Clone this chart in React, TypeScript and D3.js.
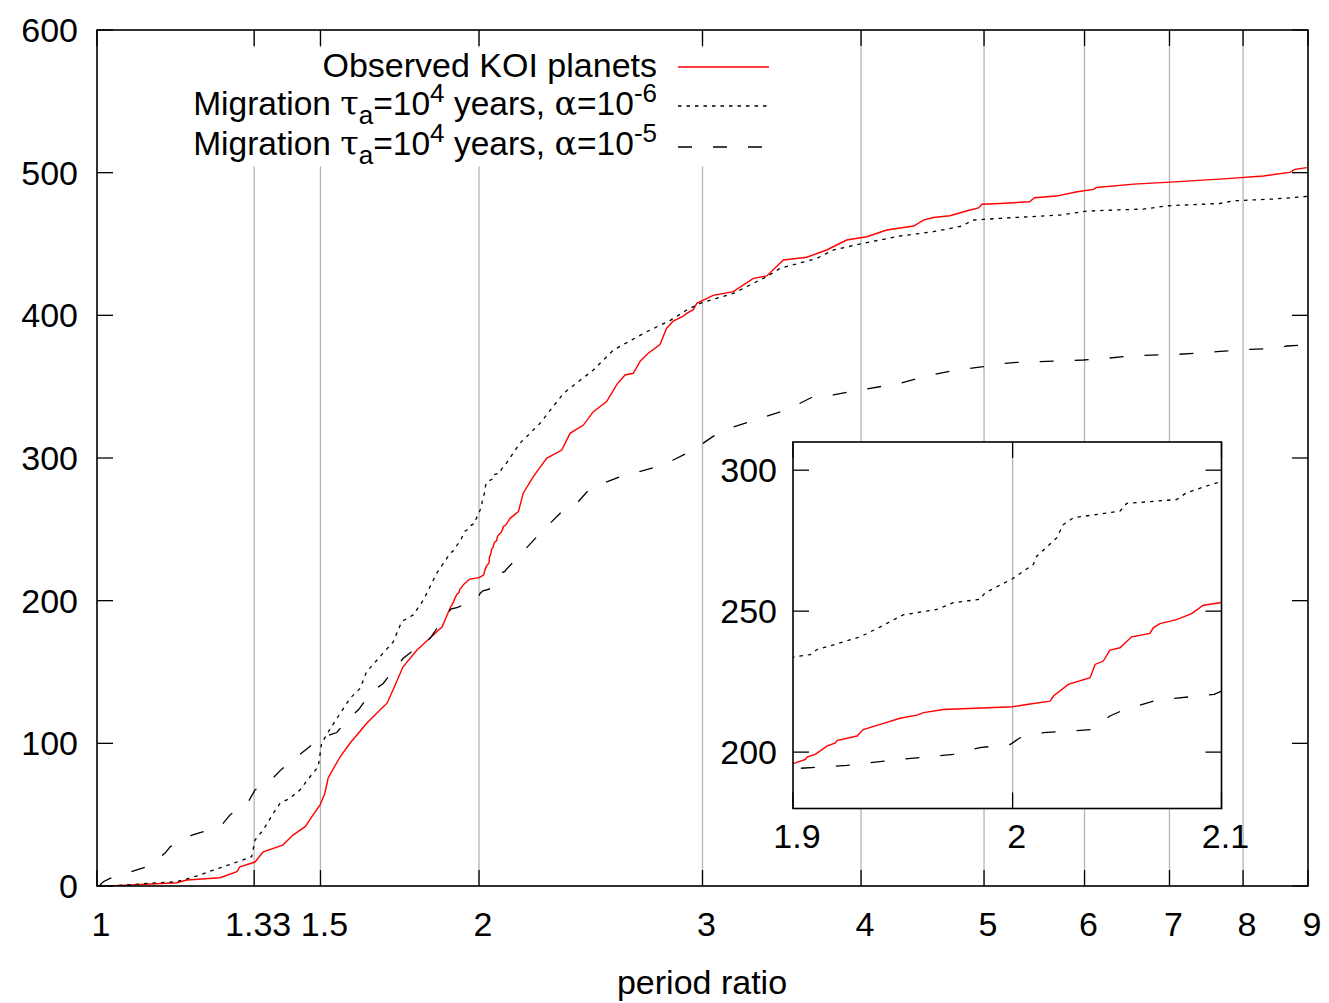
import React from "react";
import * as d3 from "d3";

// ---------- data ----------
const observedX = [1.005, 1.024, 1.156, 1.177, 1.25, 1.289, 1.296, 1.332, 1.352, 1.401, 1.427, 1.459, 1.48, 1.499, 1.512, 1.521, 1.554, 1.583, 1.632, 1.662, 1.693, 1.711, 1.742, 1.787, 1.83, 1.87,
  1.9, 1.9055, 1.9062, 1.9099, 1.9151, 1.9189, 1.9196, 1.9286, 1.9314, 1.9406, 1.9481, 1.9558, 1.9588, 1.968, 2.0, 2.0066, 2.0176, 2.0192, 2.0262, 2.0365, 2.0389, 2.0428, 2.046, 2.0508, 2.0564, 2.0652, 2.0668, 2.07, 2.0781, 2.0854, 2.0911, 2.0993,
  2.116, 2.148, 2.167, 2.207, 2.261, 2.324, 2.359, 2.417, 2.461, 2.521, 2.57, 2.607, 2.646, 2.68, 2.719, 2.777, 2.811, 2.845, 2.897, 2.915, 2.95, 2.969, 3.059, 3.172, 3.29, 3.371, 3.474, 3.624, 3.758, 3.897, 4.041, 4.191, 4.4, 4.48, 4.56, 4.7, 4.85, 4.95, 4.98, 5.15, 5.43, 5.48, 5.7, 5.92, 6.1, 6.13, 6.56, 7.01, 7.77, 8.3, 8.71, 8.79, 8.98];
const observedY = [0, 0, 2.3, 4.2, 5.8, 10, 13.5, 16.8, 24, 28.7, 35.7, 41.6, 49.8, 56.8, 65, 75.7, 90.4, 100.2, 114.3, 121.3, 128.3, 137.4, 153.5, 165.4, 173.8, 181.5,
  195.9, 197.4, 198.2, 199.2, 202.1, 203.3, 204.1, 205.7, 208, 210.2, 212, 213.1, 214, 215.1, 216.1, 216.9, 218.1, 219.9, 224, 226.4, 231.1, 232.3, 236.2, 237, 240.9, 242.1, 244.1, 245.6, 247, 249.1, 252.1, 253,
  257.7, 262.4, 275.3, 286.9, 299.8, 305.6, 317.3, 323.1, 332.5, 339.5, 352, 358.2, 359.4, 368, 373.4, 379.6, 391, 396, 399.5, 401.4, 404, 408.4, 414, 416.6, 425.9, 427.6, 438.8, 440.7, 445.8, 452.8, 455.1, 459.8, 462.6, 466.8, 468.6, 469.8, 473.3, 475.3, 477.9, 478.4, 479.6, 482.4, 483.6, 486.6, 488.3, 489.6, 492, 493.4, 495.8, 497.7, 500.2, 502.3, 503.5];

const alpha6X = [1.024, 1.101, 1.156, 1.206, 1.235, 1.281, 1.324, 1.332, 1.352, 1.377, 1.394, 1.419, 1.445, 1.472, 1.494, 1.503, 1.526, 1.583, 1.612, 1.631, 1.712, 1.738, 1.775, 1.808, 1.852,
  1.9, 1.9077, 1.9107, 1.9196, 1.9301, 1.9376, 1.9495, 1.9649, 1.9725, 1.9848, 1.9872, 2.0, 2.0097, 2.0113, 2.0207, 2.0238, 2.0285, 2.0508, 2.054, 2.0781, 2.0829, 2.0948, 2.1,
  2.154, 2.234, 2.331, 2.461, 2.552, 2.711, 2.83, 2.915, 2.987, 3.172, 3.371, 3.453, 3.691, 3.804, 4.017, 4.293, 4.56, 4.8, 4.9, 4.99, 5.15, 5.74, 6.02, 6.68, 6.97, 7.67, 7.86, 8.45, 8.92, 9.0];
const alpha6Y = [0, 1.9, 3, 7.7, 11.2, 15.9, 20.6, 32.2, 39.3, 51, 58, 61.5, 67.3, 76.6, 83.6, 100, 110, 131.6, 138.6, 150.2, 171.2, 185.3, 190, 200.5, 219.2,
  233.7, 234.6, 236.4, 238.4, 240.9, 243.8, 248.7, 250.6, 253, 254.2, 256.5, 261.5, 266.6, 269.5, 276, 280.7, 283.1, 285.5, 288.2, 289.6, 292, 294.9, 295.9,
  310.3, 324.3, 345.3, 361.7, 375.7, 388.5, 396.5, 403.7, 408.4, 415.4, 427.1, 432.9, 439.9, 445.8, 450.5, 455.6, 458.6, 462.5, 466.8, 467.2, 468, 470.3, 473.1, 474.5, 476.8, 478.4, 480.3, 481.5, 483.1, 483.5];

const alpha5X = [1.005, 1.0115, 1.024, 1.094, 1.131, 1.142, 1.188, 1.213, 1.254, 1.273, 1.316, 1.332, 1.373, 1.398, 1.437, 1.463, 1.499, 1.545, 1.578, 1.607, 1.646, 1.681, 1.717, 1.743, 1.791, 1.83, 1.869,
  1.9, 1.9241, 1.9481, 1.9725, 1.9848, 1.9988, 2.0035, 2.0144, 2.0373, 2.046, 2.0529, 2.0684, 2.0964, 2.1,
  2.142, 2.234, 2.331, 2.388, 2.446, 2.583, 2.646, 2.761, 2.845, 2.95, 3.06, 3.135, 3.27, 3.495, 3.668, 3.804, 3.993, 4.293, 4.478, 4.729, 4.993, 5.147, 5.305, 5.987, 6.247, 6.555, 7.093, 7.626, 8.101, 8.504, 8.659, 8.978];
const alpha5Y = [0.5, 3, 5.4, 13.5, 22.9, 27.5, 35.7, 38.1, 42.8, 49.8, 59.1, 67.3, 74.8, 81.9, 90.6, 96, 103.5, 107.6, 117.5, 123.5, 136.2, 142, 152.6, 159.6, 167.8, 173.6, 185.3,
  194.1, 195.3, 197.4, 199.2, 201.6, 202.7, 205.1, 206.9, 208, 212.8, 215.1, 218.4, 220.5, 221.6,
  229.7, 247.2, 263.5, 268.2, 278.7, 286.9, 289.2, 293.9, 298.6, 305.6, 315.3, 320.2, 325.5, 333.7, 343, 344.2, 347.7, 352.3, 357, 361.2, 364, 366, 367, 368.7, 369.9, 371.7, 372.6, 374.5, 376.2, 376.9, 378.5, 379.2];

const xTickValues = [1, 1.33, 1.5, 2, 3, 4, 5, 6, 7, 8, 9];
const xTickLabels = ["1", "1.33", "1.5", "2", "3", "4", "5", "6", "7", "8", "9"];
const yTickValues = [0, 100, 200, 300, 400, 500, 600];
const insetXTicks = [1.9, 2, 2.1];
const insetXLabels = ["1.9", "2", "2.1"];
const insetYTicks = [200, 250, 300];
const xTitle = "period ratio";
const legendExponents = ["-6", "-5"];

const FONT = "'Liberation Sans', Arial, Helvetica, sans-serif";
const GREEK = "'DejaVu Serif', 'Liberation Serif', serif";

export default function App() {
  // main frame
  const L = 97, R = 1308, T = 30, B = 886;
  const x = d3.scaleLog().domain([1, 9]).range([L, R]);
  const y = d3.scaleLinear().domain([0, 600]).range([B, T]);
  // inset frame
  const iL = 793, iR = 1221.5, iT = 442, iB = 808.5;
  const ix = d3.scaleLog().domain([1.9, 2.1]).range([iL, iR]);
  const iy = d3.scaleLinear().domain([180, 310]).range([iB, iT]);

  const series = [
    { xs: observedX, ys: observedY, color: "#ff0000", width: 1.4, dash: undefined as string | undefined },
    { xs: alpha6X, ys: alpha6Y, color: "#000", width: 1.3, dash: "3.5,5" },
    { xs: alpha5X, ys: alpha5Y, color: "#000", width: 1.3, dash: "14,21" },
  ];

  const mkLine = (sx: any, sy: any) =>
    d3.line<[number, number]>().x((d) => sx(d[0])).y((d) => sy(d[1]));
  const mainLine = mkLine(x, y);
  const insetLine = mkLine(ix, iy);
  const pts = (s: any) => s.xs.map((v: number, i: number) => [v, s.ys[i]] as [number, number]);

  const tickLen = 16;
  const grid = "#b4b4b4";
  const FS = 34;

  const legendRows = [
    { base: 77, lineY: 67 },
    { base: 115, lineY: 106 },
    { base: 155, lineY: 147 },
  ];

  return (
    <svg width={1329} height={1003} style={{ position: "absolute", left: 0, top: 0, background: "#fff" }}
      fontFamily={FONT}>
      <defs>
        <clipPath id="mainClip"><rect x={L} y={T} width={R - L} height={B - T} /></clipPath>
        <clipPath id="insetClip"><rect x={iL} y={iT} width={iR - iL} height={iB - iT} /></clipPath>
      </defs>
      <rect x={0} y={0} width={1329} height={1003} fill="#fff" />

      {/* grid lines */}
      {xTickValues.filter((v) => v > 1 && v < 9).map((v) => (
        <line key={"g" + v} x1={x(v)} x2={x(v)} y1={T} y2={B} stroke={grid} strokeWidth={1.3} />
      ))}

      {/* legend box (opaque) */}
      <rect x={186} y={47.5} width={594} height={119} fill="#fff" />

      {/* curves */}
      <g clipPath="url(#mainClip)">
        {series.map((s, i) => (
          <path key={"m" + i} d={mainLine(pts(s)) || ""} fill="none" stroke={s.color}
            strokeWidth={s.width} strokeDasharray={s.dash} />
        ))}
      </g>

      {/* frame */}
      <rect x={L} y={T} width={R - L} height={B - T} fill="none" stroke="#000" strokeWidth={1.6} />

      {/* x ticks */}
      {xTickValues.map((v, i) => (
        <g key={"xt" + v}>
          <line x1={x(v)} x2={x(v)} y1={B} y2={B - tickLen} stroke="#000" strokeWidth={1.3} />
          <line x1={x(v)} x2={x(v)} y1={T} y2={T + tickLen} stroke="#000" strokeWidth={1.3} />
          <text x={x(v) + 4} y={936} textAnchor="middle" fontSize={FS}>{xTickLabels[i]}</text>
        </g>
      ))}
      {/* y ticks */}
      {yTickValues.map((v) => (
        <g key={"yt" + v}>
          <line x1={L} x2={L + tickLen} y1={y(v)} y2={y(v)} stroke="#000" strokeWidth={1.3} />
          <line x1={R} x2={R - tickLen} y1={y(v)} y2={y(v)} stroke="#000" strokeWidth={1.3} />
          <text x={78} y={y(v) + 12} textAnchor="end" fontSize={FS}>{v}</text>
        </g>
      ))}
      <text x={702} y={994} textAnchor="middle" fontSize={FS}>{xTitle}</text>

      {/* legend */}
      <text x={657} y={legendRows[0].base} textAnchor="end" fontSize={FS}>Observed KOI planets</text>
      {legendExponents.map((e, k) => (
        <text key={"lt" + k} x={657} y={legendRows[k + 1].base} textAnchor="end" fontSize={33.5}>
          Migration <tspan fontFamily={GREEK}>τ</tspan><tspan dy={9} fontSize={26}>a</tspan>
          <tspan dy={-9}>=10</tspan>
          <tspan dy={-13} fontSize={26}>4</tspan>
          <tspan dy={13}> years, </tspan><tspan fontFamily={GREEK}>α</tspan><tspan>=10</tspan>
          <tspan dy={-13} fontSize={26}>{e}</tspan>
        </text>
      ))}
      {series.map((s, i) => (
        <line key={"ll" + i} x1={678} x2={769} y1={legendRows[i].lineY} y2={legendRows[i].lineY}
          stroke={s.color} strokeWidth={s.width} strokeDasharray={s.dash} />
      ))}

      {/* inset */}
      <rect x={iL} y={iT} width={iR - iL} height={iB - iT} fill="#fff" />
      <line x1={ix(2)} x2={ix(2)} y1={iT} y2={iB} stroke={grid} strokeWidth={1.3} />
      <g clipPath="url(#insetClip)">
        {series.map((s, i) => (
          <path key={"i" + i} d={insetLine(pts(s)) || ""} fill="none" stroke={s.color}
            strokeWidth={s.width} strokeDasharray={s.dash} />
        ))}
      </g>
      <rect x={iL} y={iT} width={iR - iL} height={iB - iT} fill="none" stroke="#000" strokeWidth={1.6} />
      {insetXTicks.map((v, i) => (
        <g key={"ixt" + v}>
          <line x1={ix(v)} x2={ix(v)} y1={iB} y2={iB - tickLen} stroke="#000" strokeWidth={1.3} />
          <line x1={ix(v)} x2={ix(v)} y1={iT} y2={iT + tickLen} stroke="#000" strokeWidth={1.3} />
          <text x={ix(v) + 4} y={848} textAnchor="middle" fontSize={FS}>{insetXLabels[i]}</text>
        </g>
      ))}
      {insetYTicks.map((v) => (
        <g key={"iyt" + v}>
          <line x1={iL} x2={iL + tickLen} y1={iy(v)} y2={iy(v)} stroke="#000" strokeWidth={1.3} />
          <line x1={iR} x2={iR - tickLen} y1={iy(v)} y2={iy(v)} stroke="#000" strokeWidth={1.3} />
          <text x={777} y={iy(v) + 12} textAnchor="end" fontSize={FS}>{v}</text>
        </g>
      ))}
    </svg>
  );
}
